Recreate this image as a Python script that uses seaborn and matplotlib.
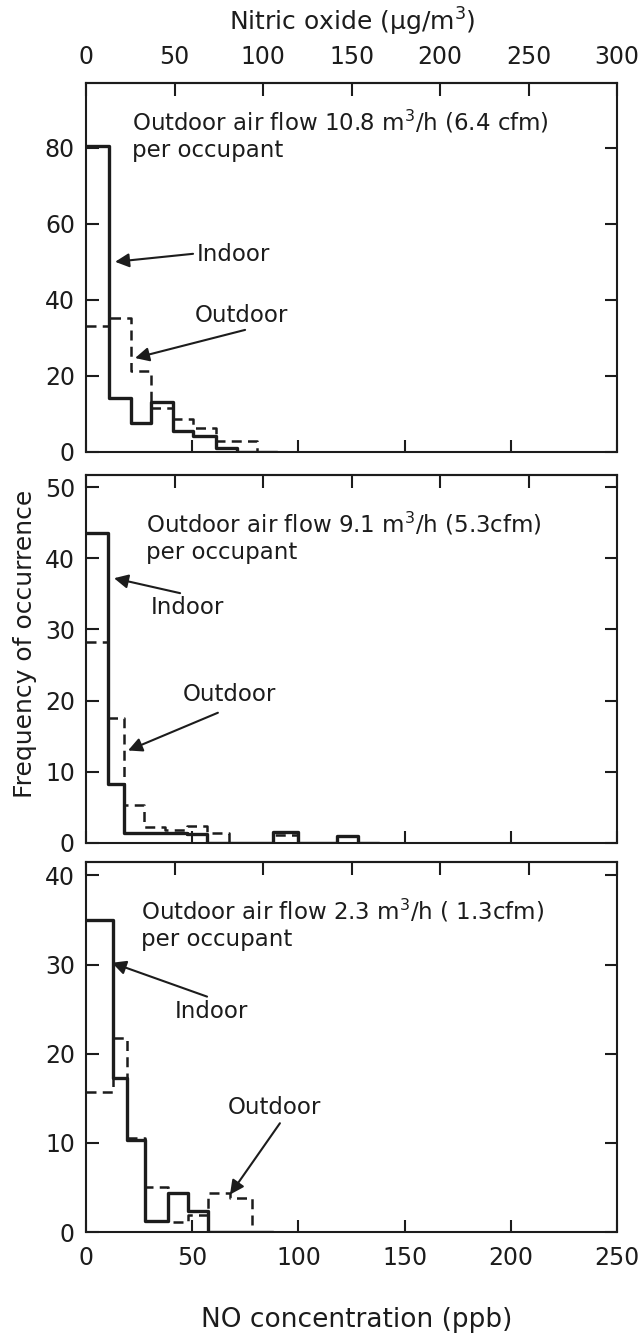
import numpy as np
import pandas as pd
import matplotlib
matplotlib.use("Agg")
import matplotlib.pyplot as plt
import seaborn as sns

# bin edges (ppb) and frequencies
edges_p1 = [0, 11, 21, 30.5, 41, 50.5, 61, 71, 80.5, 90]
indoor_p1 = [80.5, 14.2, 7.6, 13.2, 5.5, 4.2, 1.1, 0, 0]
outdoor_p1 = [33.2, 35.3, 21.2, 11.6, 8.7, 6.3, 2.9, 2.8, 0]

edges_p2 = [0, 10.5, 18, 27.5, 37, 47.5, 57, 67.5, 78, 88, 100, 118, 128, 138]
indoor_p2 = [43.5, 8.3, 1.4, 1.4, 1.4, 1.2, 0, 0, 0, 1.5, 0, 1.0, 0]
outdoor_p2 = [28.2, 17.5, 5.4, 2.2, 1.8, 2.4, 1.4, 0, 0, 1.1, 0, 0, 0]

edges_p3 = [0, 12.5, 19.5, 28, 38.5, 48, 57.5, 68, 78, 88]
indoor_p3 = [35.0, 17.3, 10.3, 1.2, 4.4, 2.3, 0, 0, 0]
outdoor_p3 = [15.7, 21.8, 10.5, 5.1, 1.1, 1.9, 4.4, 3.8, 0]

titles = ["Outdoor air flow 10.8 m$^3$/h (6.4 cfm)\nper occupant",
          "Outdoor air flow 9.1 m$^3$/h (5.3cfm)\nper occupant",
          "Outdoor air flow 2.3 m$^3$/h ( 1.3cfm)\nper occupant"]
ylims = [(0, 97), (0, 51.7), (0, 41.5)]
yticks = [[0, 20, 40, 60, 80], [0, 10, 20, 30, 40, 50], [0, 10, 20, 30, 40]]
x_ticks = [0, 50, 100, 150, 200, 250]
ug_ticks = [0, 50, 100, 150, 200, 250, 300]
ug_per_ppb = 1.2

sns.set_style("ticks")
plt.rcParams["font.family"] = ["DejaVu Sans"]
ink = "#1c1c1c"

W, H = 640, 1338
fig = plt.figure(figsize=(W / 100, H / 100), dpi=100)


def box(top, bottom, left=86, right=617):
    return [left / W, 1 - bottom / H, (right - left) / W, (bottom - top) / H]


axes = [fig.add_axes(box(83, 452)), fig.add_axes(box(475, 843)), fig.add_axes(box(862, 1232))]
data = [(edges_p1, indoor_p1, outdoor_p1),
        (edges_p2, indoor_p2, outdoor_p2),
        (edges_p3, indoor_p3, outdoor_p3)]

for i, (ax, (edges, ind, outd)) in enumerate(zip(axes, data)):
    e = np.asarray(edges, float)
    df = pd.DataFrame({"ppb": (e[:-1] + e[1:]) / 2, "indoor": ind, "outdoor": outd})
    sns.histplot(data=df, x="ppb", weights="outdoor", bins=list(edges), element="step",
                 fill=False, color=ink, linewidth=1.8, linestyle=(0, (4, 2.5)), ax=ax)
    sns.histplot(data=df, x="ppb", weights="indoor", bins=list(edges), element="step",
                 fill=False, color=ink, linewidth=2.4, ax=ax)
    ax.set_xlim(0, 250)
    ax.set_ylim(*ylims[i])
    ax.set_xticks(x_ticks)
    ax.set_yticks(yticks[i])
    ax.set_xlabel("")
    ax.set_ylabel("")
    for s in ax.spines.values():
        s.set_linewidth(1.5)
        s.set_color(ink)
    ax.tick_params(direction="in", length=9, width=1.5, color=ink, right=True,
                   labelsize=17, labelcolor=ink)
    ax.tick_params(axis="y", pad=8)
    ax.tick_params(axis="x", pad=10)
    if i < 2:
        ax.set_xticklabels([])
    top = ax.secondary_xaxis("top", functions=(lambda x: x * ug_per_ppb,
                                               lambda x: x / ug_per_ppb))
    top.set_xticks(ug_ticks)
    top.tick_params(direction="in", length=9, width=1.5, color=ink,
                    labelsize=17, labelcolor=ink, pad=10)
    top.spines["top"].set_linewidth(1.5)
    if i > 0:
        top.set_xticklabels([])

arrow = dict(arrowstyle="-|>", color=ink, lw=1.5, mutation_scale=21, shrinkA=0, shrinkB=0)
txt = dict(fontsize=16.5, color=ink)

# panel 1
a = axes[0]
a.text(21.7, 90.5, titles[0], va="top", ha="left", linespacing=1.2, **txt)
a.text(52.3, 51.8, "Indoor", va="center", ha="left", **txt)
a.annotate("", xy=(13.7, 50), xytext=(50.4, 52.1), arrowprops=arrow)
a.text(51.3, 36, "Outdoor", va="center", ha="left", **txt)
a.annotate("", xy=(23.1, 24.7), xytext=(74.9, 32.1), arrowprops=arrow)

# panel 2
a = axes[1]
a.text(28.2, 46.8, titles[1], va="top", ha="left", linespacing=1.2, **txt)
a.text(30.6, 33.1, "Indoor", va="center", ha="left", **txt)
a.annotate("", xy=(13.2, 37.2), xytext=(44.3, 35.1), arrowprops=arrow)
a.text(45.7, 20.8, "Outdoor", va="center", ha="left", **txt)
a.annotate("", xy=(19.8, 13), xytext=(62.1, 18.3), arrowprops=arrow)

# panel 3
a = axes[2]
a.text(25.9, 37.6, titles[2], va="top", ha="left", linespacing=1.2, **txt)
a.text(41.9, 24.7, "Indoor", va="center", ha="left", **txt)
a.annotate("", xy=(12.2, 30.2), xytext=(57, 26.4), arrowprops=arrow)
a.text(66.9, 14, "Outdoor", va="center", ha="left", **txt)
a.annotate("", xy=(67.8, 4.2), xytext=(91.3, 12.2), arrowprops=arrow)

fig.text(352 / W, 1 - 22 / H, "Nitric oxide (µg/m$^3$)", ha="center", va="center",
         fontsize=18, color=ink)
fig.text(357 / W, 1 - 1320 / H, "NO concentration (ppb)", ha="center", va="center",
         fontsize=19, color=ink)
fig.text(25 / W, 1 - 644 / H, "Frequency of occurrence", ha="center", va="center",
         rotation=90, fontsize=18, color=ink)

fig.savefig("out.png", dpi=100, facecolor="white")
